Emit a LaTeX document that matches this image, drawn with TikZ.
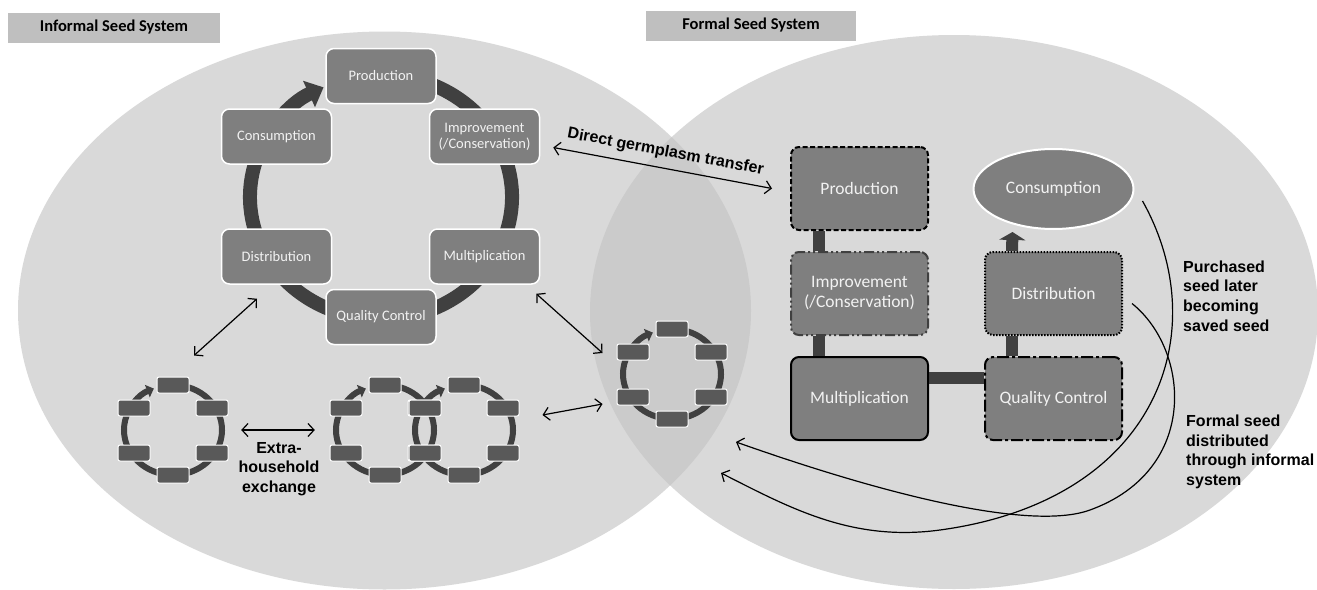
\documentclass[tikz,border=0pt]{standalone}
\usepackage{fontspec}
\setmainfont{Carlito}
\newfontfamily\arialfont{Liberation Sans}
\usetikzlibrary{positioning, arrows.meta, shapes.geometric}
\definecolor{bggray}{HTML}{D9D9D9}
\definecolor{lensgray}{HTML}{CBCBCB}
\definecolor{bannergray}{HTML}{BFBFBF}
\definecolor{boxgray}{HTML}{7F7F7F}
\definecolor{hhgray}{HTML}{595959}
\definecolor{ringgray}{HTML}{404040}
\definecolor{txtwhite}{HTML}{F2F2F2}

\begin{document}
\begin{tikzpicture}[x=1pt, y=-1pt,
    banner/.style={fill=bannergray, inner sep=0pt, minimum height=30pt, font=\fontsize{16.5}{19}\selectfont\bfseries},
    ibox/.style={draw=white, line width=1.5pt, rounded corners=8pt, fill=boxgray, text=txtwhite, minimum width=110pt, minimum height=55pt, inner sep=1pt, align=center, font=\fontsize{14.5}{16}\selectfont},
    fbox/.style={draw=black, line width=2pt, rounded corners=8pt, fill=boxgray, text=txtwhite, minimum width=137pt, minimum height=83pt, inner sep=1pt, align=center, font=\fontsize{17.5}{20}\selectfont},
    hbox/.style={draw=white, line width=1pt, rounded corners=2pt, fill=hhgray, minimum width=32pt, minimum height=16pt, inner sep=0pt},
    hhring/.style={minimum width=98pt, minimum height=90pt, inner sep=0pt},
    bigring/.style={draw=ringgray, line width=14pt, -{Triangle[width=28pt,length=16pt]}},
    smallring/.style={draw=ringgray, line width=6pt, -{Triangle[width=13pt,length=7pt]}},
    bar/.style={draw=ringgray, line width=12pt},
    exch/.style={draw=black, line width=1.2pt, {Straight Barb[length=6pt,width=13pt]}-{Straight Barb[length=6pt,width=13pt]}},
    flow/.style={draw=black, line width=1.2pt, -{Straight Barb[length=6pt,width=13pt]}},
    note/.style={font=\arialfont\bfseries\fontsize{16}{19.6}\selectfont, align=left, inner sep=0pt}
]
\useasboundingbox [fill=white] (0,0) rectangle (1317,589);

% the two seed systems
\fill [bggray] (384.5,310.5) ellipse [x radius=366.5, y radius=279];
\fill [bggray] (954,312) ellipse [x radius=364, y radius=277];
\begin{scope}
    \clip (384.5,310.5) ellipse [x radius=366.5, y radius=279];
    \fill [lensgray] (954,312) ellipse [x radius=364, y radius=277];
\end{scope}

\node (informal) [banner, minimum width=212pt] at (114,27.5) {Informal Seed System};
\node (formal) [banner, minimum width=210pt] at (751,25.5) {Formal Seed System};

% informal cycle
\coordinate (iring) at (381,197);
\draw [bigring] (iring) ++(285:131 and 122) arc [start angle=285, end angle=604, x radius=131, y radius=122];
\node (iProd) [ibox] at (381,76) {Production};
\node (iCons) [ibox] at (276.5,136.5) {Consumption};
\node (iImpr) [ibox] at (484.5,136.5) {Improvement\\(/Conservation)};
\node (iDist) [ibox] at (276.5,256.5) {Distribution};
\node (iMult) [ibox] at (484.5,256.5) {Multiplication};
\node (iQC) [ibox] at (381,317) {Quality Control};

% household cycles
\foreach \nm/\cx/\cy in {hh1/173/430, hhA/385/430, hhB/464/430, hhL/672/374} {
    \node (\nm) [hhring] at (\cx,\cy) {};
    \draw [smallring] (\nm.center) ++(282:49 and 45) arc [start angle=282, end angle=607, x radius=49, y radius=45];
}
\foreach \nm in {hh1, hhA, hhB, hhL} {
    \node (\nm-t) [hbox] at ([shift={(0,-45)}]\nm.center) {};
    \node (\nm-ur) [hbox] at ([shift={(39,-22)}]\nm.center) {};
    \node (\nm-lr) [hbox] at ([shift={(39,23)}]\nm.center) {};
    \node (\nm-b) [hbox] at ([shift={(0,45)}]\nm.center) {};
    \node (\nm-ll) [hbox] at ([shift={(-39,23)}]\nm.center) {};
    \node (\nm-ul) [hbox] at ([shift={(-39,-22)}]\nm.center) {};
}

% formal chain
\node (fProd) [fbox, dash pattern=on 5pt off 2.5pt] at (859.5,188.5) {Production};
\node (fImpr) [fbox, draw=ringgray, dash pattern=on 10pt off 3pt on 2pt off 3pt on 2pt off 3pt, below=20pt of fProd] {Improvement\\(/Conservation)};
\node (fMult) [fbox, below=20pt of fImpr] {Multiplication};
\node (fQC) [fbox, dash pattern=on 12pt off 3pt on 3pt off 3pt, right=55pt of fMult] {Quality Control};
\node (fDist) [fbox, dash pattern=on 1.5pt off 1.5pt, above=20pt of fQC] {Distribution};
\node (fCons) [ellipse, draw=white, line width=2pt, fill=boxgray, text=txtwhite, minimum width=160pt, minimum height=80pt, inner sep=0pt, font=\fontsize{17.5}{20}\selectfont, above=21pt of fDist] {Consumption};

\draw [bar] ([shift={(-40.5,0)}]fProd.south) -- ([shift={(-40.5,0)}]fImpr.north);
\draw [bar] ([shift={(-40.5,0)}]fImpr.south) -- ([shift={(-40.5,0)}]fMult.north);
\draw [bar] ([shift={(0,-21)}]fMult.east) -- ([shift={(0,-21)}]fQC.west);
\draw [bar] ([shift={(-41.5,0)}]fQC.north) -- ([shift={(-41.5,0)}]fDist.south);
\draw [bar, -{Triangle[width=26pt,length=8pt]}] ([shift={(-41.5,0)}]fDist.north) -- ([shift={(-41,2)}]fCons.south);

% exchanges
\draw [exch] ([shift={(13,11)}]iImpr.east) -- ([shift={(-18,0)}]fProd.west)
    node [midway, above=8pt, sloped, note] {Direct germplasm transfer};
\draw [exch] ([shift={(-19.5,14)}]iDist.south) -- ([shift={(21,-21)}]hh1-t.north);
\draw [exch] ([shift={(-4,9)}]iMult.south east) -- ([shift={(-14,1)}]hhL-ul.west);
\draw [exch] ([shift={(19,0)}]hh1.east) -- ([shift={(-21,0)}]hhA.west);
\draw [exch] ([shift={(23,7)}]hhB-ur.east) -- ([shift={(-14,7)}]hhL-ll.west);

% formal seed back into the informal system
\coordinate (backA) at (721,473);
\coordinate (backB) at (736,442);
\draw [flow] ([shift={(8,12)}]fCons.east) .. controls (1215,330) and (1160,500) .. (940,530)
    .. controls (852,542) and (790,508) .. (backA);
\draw [flow] ([shift={(9,10)}]fDist.east) .. controls (1190,350) and (1200,470) .. (1090,510)
    .. controls (1035,530) and (900,500) .. (backB);

% Labels
\node (xlabel) [note, align=center] at (279,469) {Extra-\\household\\exchange};
\node (plabel) [note, anchor=west] at (1183,296) {Purchased\\seed later\\becoming\\saved seed};
\node (dlabel) [note, anchor=west] at (1186,452) {Formal seed\\distributed\\through informal\\system};
\end{tikzpicture}
\end{document}
